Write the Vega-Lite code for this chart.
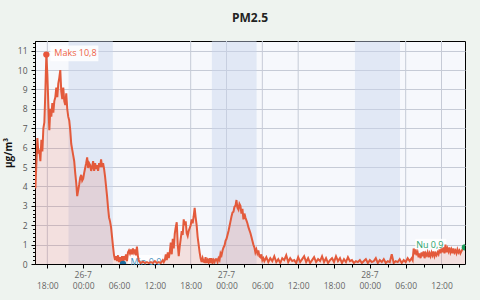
{
  "$schema": "https://vega.github.io/schema/vega-lite/v6.json",
  "width": 430,
  "height": 223,
  "autosize": {"type": "none"},
  "padding": {"left": 35, "top": 41, "right": 15, "bottom": 36},
  "background": "#eef3ef",
  "title": {"text": "PM2.5", "font": "Open Sans", "fontSize": 12, "fontWeight": "bold", "color": "#222", "offset": 16, "anchor": "middle"},
  "config": {
    "view": {"fill": "#f6f8fc", "stroke": "#000", "strokeWidth": 1},
    "axis": {"labelFont": "Open Sans", "titleFont": "Open Sans"}
  },
  "resolve": {"axis": {"x": "independent", "y": "independent"}},
  "datasets": {
    "pm": [
      {"t": "2024-07-25T16:00", "v": 3.9}, {"t": "2024-07-25T16:10", "v": 5.2}, {"t": "2024-07-25T16:20", "v": 6.5}, {"t": "2024-07-25T16:30", "v": 5.7},
      {"t": "2024-07-25T16:40", "v": 5.9}, {"t": "2024-07-25T16:50", "v": 5.3}, {"t": "2024-07-25T17:00", "v": 6.4}, {"t": "2024-07-25T17:10", "v": 5.8},
      {"t": "2024-07-25T17:20", "v": 7.0}, {"t": "2024-07-25T17:30", "v": 7.3}, {"t": "2024-07-25T17:40", "v": 8.9}, {"t": "2024-07-25T17:50", "v": 10.8},
      {"t": "2024-07-25T18:00", "v": 9.8}, {"t": "2024-07-25T18:10", "v": 8.25}, {"t": "2024-07-25T18:20", "v": 6.9}, {"t": "2024-07-25T18:30", "v": 8.0},
      {"t": "2024-07-25T18:40", "v": 7.6}, {"t": "2024-07-25T18:50", "v": 8.3}, {"t": "2024-07-25T19:00", "v": 7.8}, {"t": "2024-07-25T19:10", "v": 8.4},
      {"t": "2024-07-25T19:20", "v": 8.6}, {"t": "2024-07-25T19:30", "v": 9.1}, {"t": "2024-07-25T19:40", "v": 8.6}, {"t": "2024-07-25T19:50", "v": 9.3},
      {"t": "2024-07-25T20:00", "v": 9.6}, {"t": "2024-07-25T20:10", "v": 10.0}, {"t": "2024-07-25T20:20", "v": 8.9}, {"t": "2024-07-25T20:30", "v": 8.5},
      {"t": "2024-07-25T20:40", "v": 9.1}, {"t": "2024-07-25T20:50", "v": 8.4}, {"t": "2024-07-25T21:00", "v": 8.2}, {"t": "2024-07-25T21:10", "v": 8.8},
      {"t": "2024-07-25T21:20", "v": 8.0}, {"t": "2024-07-25T21:30", "v": 7.6}, {"t": "2024-07-25T21:40", "v": 7.4}, {"t": "2024-07-25T21:50", "v": 6.9},
      {"t": "2024-07-25T22:00", "v": 6.2}, {"t": "2024-07-25T22:10", "v": 5.9}, {"t": "2024-07-25T22:20", "v": 5.6}, {"t": "2024-07-25T22:30", "v": 5.3},
      {"t": "2024-07-25T22:40", "v": 4.7}, {"t": "2024-07-25T22:50", "v": 4.2}, {"t": "2024-07-25T23:00", "v": 3.5}, {"t": "2024-07-25T23:10", "v": 3.8},
      {"t": "2024-07-25T23:20", "v": 4.1}, {"t": "2024-07-25T23:30", "v": 4.45}, {"t": "2024-07-25T23:40", "v": 4.6}, {"t": "2024-07-25T23:50", "v": 4.3},
      {"t": "2024-07-26T00:00", "v": 4.4}, {"t": "2024-07-26T00:10", "v": 4.7}, {"t": "2024-07-26T00:20", "v": 4.95}, {"t": "2024-07-26T00:30", "v": 5.2},
      {"t": "2024-07-26T00:40", "v": 5.5}, {"t": "2024-07-26T00:50", "v": 4.95}, {"t": "2024-07-26T01:00", "v": 5.2}, {"t": "2024-07-26T01:10", "v": 5.1},
      {"t": "2024-07-26T01:20", "v": 4.8}, {"t": "2024-07-26T01:30", "v": 5.0}, {"t": "2024-07-26T01:40", "v": 5.3}, {"t": "2024-07-26T01:50", "v": 4.8},
      {"t": "2024-07-26T02:00", "v": 5.2}, {"t": "2024-07-26T02:10", "v": 4.9}, {"t": "2024-07-26T02:20", "v": 5.1}, {"t": "2024-07-26T02:30", "v": 4.8},
      {"t": "2024-07-26T02:40", "v": 5.2}, {"t": "2024-07-26T02:50", "v": 5.0}, {"t": "2024-07-26T03:00", "v": 5.4}, {"t": "2024-07-26T03:10", "v": 5.0},
      {"t": "2024-07-26T03:20", "v": 5.2}, {"t": "2024-07-26T03:30", "v": 4.9}, {"t": "2024-07-26T03:40", "v": 4.5}, {"t": "2024-07-26T03:50", "v": 4.0},
      {"t": "2024-07-26T04:00", "v": 3.5}, {"t": "2024-07-26T04:10", "v": 2.9}, {"t": "2024-07-26T04:20", "v": 2.4}, {"t": "2024-07-26T04:30", "v": 2.2},
      {"t": "2024-07-26T04:40", "v": 1.9}, {"t": "2024-07-26T04:50", "v": 1.4}, {"t": "2024-07-26T05:00", "v": 0.9}, {"t": "2024-07-26T05:10", "v": 0.45},
      {"t": "2024-07-26T05:20", "v": 0.2}, {"t": "2024-07-26T05:30", "v": 0.4}, {"t": "2024-07-26T05:40", "v": 0.15}, {"t": "2024-07-26T05:50", "v": 0.45},
      {"t": "2024-07-26T06:00", "v": 0.1}, {"t": "2024-07-26T06:10", "v": 0.35}, {"t": "2024-07-26T06:20", "v": 0.05}, {"t": "2024-07-26T06:30", "v": 0.4},
      {"t": "2024-07-26T06:40", "v": 0.0}, {"t": "2024-07-26T06:50", "v": 0.4}, {"t": "2024-07-26T07:00", "v": 0.2}, {"t": "2024-07-26T07:10", "v": 0.5},
      {"t": "2024-07-26T07:20", "v": 0.15}, {"t": "2024-07-26T07:30", "v": 0.6}, {"t": "2024-07-26T07:40", "v": 0.7}, {"t": "2024-07-26T07:50", "v": 0.55},
      {"t": "2024-07-26T08:00", "v": 0.75}, {"t": "2024-07-26T08:10", "v": 0.5}, {"t": "2024-07-26T08:20", "v": 0.8}, {"t": "2024-07-26T08:30", "v": 0.6},
      {"t": "2024-07-26T08:40", "v": 0.75}, {"t": "2024-07-26T08:50", "v": 0.45}, {"t": "2024-07-26T09:00", "v": 0.9}, {"t": "2024-07-26T09:10", "v": 0.4},
      {"t": "2024-07-26T09:20", "v": 0.15}, {"t": "2024-07-26T09:40", "v": 0.05}, {"t": "2024-07-26T10:00", "v": 0.12}, {"t": "2024-07-26T10:20", "v": 0.05},
      {"t": "2024-07-26T10:40", "v": 0.1}, {"t": "2024-07-26T11:00", "v": 0.05}, {"t": "2024-07-26T11:20", "v": 0.1}, {"t": "2024-07-26T11:40", "v": 0.05},
      {"t": "2024-07-26T12:00", "v": 0.15}, {"t": "2024-07-26T12:20", "v": 0.05}, {"t": "2024-07-26T12:40", "v": 0.1}, {"t": "2024-07-26T13:00", "v": 0.05},
      {"t": "2024-07-26T13:20", "v": 0.2}, {"t": "2024-07-26T13:30", "v": 0.1}, {"t": "2024-07-26T13:40", "v": 0.2}, {"t": "2024-07-26T13:50", "v": 0.5},
      {"t": "2024-07-26T14:00", "v": 0.2}, {"t": "2024-07-26T14:10", "v": 0.6}, {"t": "2024-07-26T14:20", "v": 0.3}, {"t": "2024-07-26T14:30", "v": 0.6},
      {"t": "2024-07-26T14:40", "v": 1.1}, {"t": "2024-07-26T14:50", "v": 0.5}, {"t": "2024-07-26T15:00", "v": 1.3}, {"t": "2024-07-26T15:10", "v": 0.8},
      {"t": "2024-07-26T15:20", "v": 1.55}, {"t": "2024-07-26T15:30", "v": 1.9}, {"t": "2024-07-26T15:40", "v": 2.15}, {"t": "2024-07-26T15:50", "v": 1.0},
      {"t": "2024-07-26T16:00", "v": 0.4}, {"t": "2024-07-26T16:10", "v": 0.9}, {"t": "2024-07-26T16:20", "v": 1.3}, {"t": "2024-07-26T16:30", "v": 1.7},
      {"t": "2024-07-26T16:40", "v": 1.5}, {"t": "2024-07-26T16:50", "v": 2.3}, {"t": "2024-07-26T17:00", "v": 2.0}, {"t": "2024-07-26T17:10", "v": 2.2},
      {"t": "2024-07-26T17:20", "v": 1.6}, {"t": "2024-07-26T17:30", "v": 1.45}, {"t": "2024-07-26T17:40", "v": 1.7}, {"t": "2024-07-26T17:50", "v": 1.85},
      {"t": "2024-07-26T18:00", "v": 2.0}, {"t": "2024-07-26T18:10", "v": 2.3}, {"t": "2024-07-26T18:20", "v": 2.1}, {"t": "2024-07-26T18:30", "v": 2.45},
      {"t": "2024-07-26T18:40", "v": 2.9}, {"t": "2024-07-26T18:50", "v": 2.4}, {"t": "2024-07-26T19:00", "v": 2.0}, {"t": "2024-07-26T19:10", "v": 1.4},
      {"t": "2024-07-26T19:20", "v": 1.0}, {"t": "2024-07-26T19:30", "v": 0.6}, {"t": "2024-07-26T19:40", "v": 0.3}, {"t": "2024-07-26T19:50", "v": 0.1},
      {"t": "2024-07-26T20:00", "v": 0.3}, {"t": "2024-07-26T20:10", "v": 0.12}, {"t": "2024-07-26T20:20", "v": 0.1}, {"t": "2024-07-26T20:30", "v": 0.35},
      {"t": "2024-07-26T20:40", "v": 0.05}, {"t": "2024-07-26T20:50", "v": 0.2}, {"t": "2024-07-26T21:00", "v": 0.08}, {"t": "2024-07-26T21:10", "v": 0.3},
      {"t": "2024-07-26T21:20", "v": 0.05}, {"t": "2024-07-26T21:30", "v": 0.3}, {"t": "2024-07-26T21:40", "v": 0.05}, {"t": "2024-07-26T21:50", "v": 0.2},
      {"t": "2024-07-26T22:00", "v": 0.1}, {"t": "2024-07-26T22:10", "v": 0.25}, {"t": "2024-07-26T22:20", "v": 0.25}, {"t": "2024-07-26T22:30", "v": 0.1},
      {"t": "2024-07-26T22:40", "v": 0.3}, {"t": "2024-07-26T22:50", "v": 0.2}, {"t": "2024-07-26T23:00", "v": 0.55}, {"t": "2024-07-26T23:10", "v": 0.45},
      {"t": "2024-07-26T23:20", "v": 0.7}, {"t": "2024-07-26T23:30", "v": 0.85}, {"t": "2024-07-26T23:40", "v": 0.95}, {"t": "2024-07-26T23:50", "v": 1.2},
      {"t": "2024-07-27T00:00", "v": 1.3}, {"t": "2024-07-27T00:10", "v": 1.5}, {"t": "2024-07-27T00:20", "v": 1.7}, {"t": "2024-07-27T00:30", "v": 1.95},
      {"t": "2024-07-27T00:40", "v": 2.2}, {"t": "2024-07-27T00:50", "v": 2.45}, {"t": "2024-07-27T01:00", "v": 2.65}, {"t": "2024-07-27T01:10", "v": 2.7},
      {"t": "2024-07-27T01:20", "v": 2.95}, {"t": "2024-07-27T01:30", "v": 3.0}, {"t": "2024-07-27T01:40", "v": 3.3}, {"t": "2024-07-27T01:50", "v": 2.9},
      {"t": "2024-07-27T02:00", "v": 2.8}, {"t": "2024-07-27T02:10", "v": 3.1}, {"t": "2024-07-27T02:20", "v": 3.0}, {"t": "2024-07-27T02:30", "v": 2.6},
      {"t": "2024-07-27T02:40", "v": 2.85}, {"t": "2024-07-27T02:50", "v": 2.3}, {"t": "2024-07-27T03:00", "v": 2.6}, {"t": "2024-07-27T03:10", "v": 2.4},
      {"t": "2024-07-27T03:20", "v": 2.25}, {"t": "2024-07-27T03:30", "v": 2.1}, {"t": "2024-07-27T03:40", "v": 1.9}, {"t": "2024-07-27T03:50", "v": 1.75},
      {"t": "2024-07-27T04:00", "v": 1.6}, {"t": "2024-07-27T04:10", "v": 1.4}, {"t": "2024-07-27T04:20", "v": 1.2}, {"t": "2024-07-27T04:30", "v": 1.0},
      {"t": "2024-07-27T04:40", "v": 0.86}, {"t": "2024-07-27T04:50", "v": 0.6}, {"t": "2024-07-27T05:00", "v": 0.75}, {"t": "2024-07-27T05:10", "v": 0.55},
      {"t": "2024-07-27T05:20", "v": 0.7}, {"t": "2024-07-27T05:30", "v": 0.4}, {"t": "2024-07-27T05:40", "v": 0.35}, {"t": "2024-07-27T05:50", "v": 0.5},
      {"t": "2024-07-27T06:00", "v": 0.2}, {"t": "2024-07-27T06:10", "v": 0.3}, {"t": "2024-07-27T06:20", "v": 0.15}, {"t": "2024-07-27T06:40", "v": 0.35},
      {"t": "2024-07-27T07:00", "v": 0.1}, {"t": "2024-07-27T07:20", "v": 0.3}, {"t": "2024-07-27T07:40", "v": 0.15}, {"t": "2024-07-27T08:00", "v": 0.4},
      {"t": "2024-07-27T08:20", "v": 0.1}, {"t": "2024-07-27T08:40", "v": 0.25}, {"t": "2024-07-27T09:00", "v": 0.05}, {"t": "2024-07-27T09:20", "v": 0.3},
      {"t": "2024-07-27T09:40", "v": 0.2}, {"t": "2024-07-27T10:00", "v": 0.45}, {"t": "2024-07-27T10:20", "v": 0.1}, {"t": "2024-07-27T10:40", "v": 0.3},
      {"t": "2024-07-27T11:00", "v": 0.15}, {"t": "2024-07-27T11:20", "v": 0.2}, {"t": "2024-07-27T11:40", "v": 0.05}, {"t": "2024-07-27T12:00", "v": 0.35},
      {"t": "2024-07-27T12:20", "v": 0.1}, {"t": "2024-07-27T12:40", "v": 0.25}, {"t": "2024-07-27T13:00", "v": 0.4}, {"t": "2024-07-27T13:20", "v": 0.1},
      {"t": "2024-07-27T13:40", "v": 0.3}, {"t": "2024-07-27T14:00", "v": 0.05}, {"t": "2024-07-27T14:20", "v": 0.2}, {"t": "2024-07-27T14:40", "v": 0.35},
      {"t": "2024-07-27T15:00", "v": 0.1}, {"t": "2024-07-27T15:20", "v": 0.25}, {"t": "2024-07-27T15:40", "v": 0.15}, {"t": "2024-07-27T16:00", "v": 0.4},
      {"t": "2024-07-27T16:20", "v": 0.1}, {"t": "2024-07-27T16:40", "v": 0.3}, {"t": "2024-07-27T17:00", "v": 0.05}, {"t": "2024-07-27T17:20", "v": 0.2},
      {"t": "2024-07-27T17:40", "v": 0.3}, {"t": "2024-07-27T18:00", "v": 0.1}, {"t": "2024-07-27T18:20", "v": 0.4}, {"t": "2024-07-27T18:40", "v": 0.15},
      {"t": "2024-07-27T19:00", "v": 0.3}, {"t": "2024-07-27T19:20", "v": 0.05}, {"t": "2024-07-27T19:40", "v": 0.25}, {"t": "2024-07-27T20:00", "v": 0.1},
      {"t": "2024-07-27T20:20", "v": 0.35}, {"t": "2024-07-27T20:40", "v": 0.15}, {"t": "2024-07-27T21:00", "v": 0.2}, {"t": "2024-07-27T21:20", "v": 0.05},
      {"t": "2024-07-27T21:40", "v": 0.15}, {"t": "2024-07-27T22:00", "v": 0.1}, {"t": "2024-07-27T22:20", "v": 0.2}, {"t": "2024-07-27T22:40", "v": 0.05},
      {"t": "2024-07-27T23:00", "v": 0.15}, {"t": "2024-07-27T23:20", "v": 0.25}, {"t": "2024-07-27T23:40", "v": 0.05}, {"t": "2024-07-28T00:00", "v": 0.2},
      {"t": "2024-07-28T00:20", "v": 0.1}, {"t": "2024-07-28T00:40", "v": 0.15}, {"t": "2024-07-28T01:00", "v": 0.3}, {"t": "2024-07-28T01:20", "v": 0.05},
      {"t": "2024-07-28T01:40", "v": 0.2}, {"t": "2024-07-28T02:00", "v": 0.1}, {"t": "2024-07-28T02:20", "v": 0.25}, {"t": "2024-07-28T02:40", "v": 0.05},
      {"t": "2024-07-28T03:00", "v": 0.15}, {"t": "2024-07-28T03:20", "v": 0.1}, {"t": "2024-07-28T03:40", "v": 0.5}, {"t": "2024-07-28T04:00", "v": 0.05},
      {"t": "2024-07-28T04:20", "v": 0.15}, {"t": "2024-07-28T04:40", "v": 0.1}, {"t": "2024-07-28T05:00", "v": 0.25}, {"t": "2024-07-28T05:20", "v": 0.05},
      {"t": "2024-07-28T05:40", "v": 0.2}, {"t": "2024-07-28T06:00", "v": 0.1}, {"t": "2024-07-28T06:20", "v": 0.3}, {"t": "2024-07-28T06:40", "v": 0.15},
      {"t": "2024-07-28T07:00", "v": 0.3}, {"t": "2024-07-28T07:10", "v": 0.2}, {"t": "2024-07-28T07:20", "v": 0.8}, {"t": "2024-07-28T07:30", "v": 0.5},
      {"t": "2024-07-28T07:40", "v": 0.75}, {"t": "2024-07-28T07:50", "v": 0.45}, {"t": "2024-07-28T08:00", "v": 0.6}, {"t": "2024-07-28T08:10", "v": 0.35},
      {"t": "2024-07-28T08:20", "v": 0.55}, {"t": "2024-07-28T08:30", "v": 0.3}, {"t": "2024-07-28T08:40", "v": 0.6}, {"t": "2024-07-28T08:50", "v": 0.4},
      {"t": "2024-07-28T09:00", "v": 0.65}, {"t": "2024-07-28T09:10", "v": 0.3}, {"t": "2024-07-28T09:20", "v": 0.55}, {"t": "2024-07-28T09:30", "v": 0.45},
      {"t": "2024-07-28T09:40", "v": 0.6}, {"t": "2024-07-28T09:50", "v": 0.35}, {"t": "2024-07-28T10:00", "v": 0.55}, {"t": "2024-07-28T10:10", "v": 0.4},
      {"t": "2024-07-28T10:20", "v": 0.6}, {"t": "2024-07-28T10:30", "v": 0.45}, {"t": "2024-07-28T10:40", "v": 0.65}, {"t": "2024-07-28T10:50", "v": 0.4},
      {"t": "2024-07-28T11:00", "v": 0.55}, {"t": "2024-07-28T11:10", "v": 0.45}, {"t": "2024-07-28T11:20", "v": 0.6}, {"t": "2024-07-28T11:30", "v": 0.5},
      {"t": "2024-07-28T11:40", "v": 0.75}, {"t": "2024-07-28T11:50", "v": 0.55}, {"t": "2024-07-28T12:00", "v": 0.8}, {"t": "2024-07-28T12:10", "v": 0.6},
      {"t": "2024-07-28T12:20", "v": 0.85}, {"t": "2024-07-28T12:30", "v": 0.55}, {"t": "2024-07-28T12:40", "v": 1.0}, {"t": "2024-07-28T12:50", "v": 0.6},
      {"t": "2024-07-28T13:00", "v": 0.8}, {"t": "2024-07-28T13:10", "v": 0.65}, {"t": "2024-07-28T13:20", "v": 0.85}, {"t": "2024-07-28T13:30", "v": 0.6},
      {"t": "2024-07-28T13:40", "v": 0.75}, {"t": "2024-07-28T13:50", "v": 0.55}, {"t": "2024-07-28T14:00", "v": 0.8}, {"t": "2024-07-28T14:10", "v": 0.6},
      {"t": "2024-07-28T14:20", "v": 0.7}, {"t": "2024-07-28T14:30", "v": 0.55}, {"t": "2024-07-28T14:40", "v": 0.75}, {"t": "2024-07-28T14:50", "v": 0.6},
      {"t": "2024-07-28T15:00", "v": 0.7}, {"t": "2024-07-28T15:10", "v": 0.55}, {"t": "2024-07-28T15:20", "v": 0.65}, {"t": "2024-07-28T15:30", "v": 0.75},
      {"t": "2024-07-28T15:40", "v": 0.8}, {"t": "2024-07-28T15:55", "v": 0.86}
    ],
    "bands": [
      {"s": "2024-07-25T21:33", "e": "2024-07-26T04:58"},
      {"s": "2024-07-26T21:33", "e": "2024-07-27T05:02"},
      {"s": "2024-07-27T21:30", "e": "2024-07-28T05:03"}
    ],
    "grid": [
      {"g": "2024-07-25T18:00"}, {"g": "2024-07-26T18:00"}, {"g": "2024-07-27T00:00"}, {"g": "2024-07-27T06:00"},
      {"g": "2024-07-27T12:00"}, {"g": "2024-07-28T06:00"}, {"g": "2024-07-28T12:00"}
    ],
    "dates": [
      {"d": "2024-07-26T00:00", "lab": "26-7"}, {"d": "2024-07-27T00:00", "lab": "27-7"}, {"d": "2024-07-28T00:00", "lab": "28-7"}
    ],
    "ann": [
      {"t": "2024-07-25T17:50", "v": 10.8, "k": "max", "label": "Maks 10,8"},
      {"t": "2024-07-26T06:40", "v": 0.0, "k": "min", "label": "Min 0,0"},
      {"t": "2024-07-28T15:55", "v": 0.86, "k": "now", "label": "Nu 0,9"}
    ]
  },
  "layer": [
    {
      "data": {"name": "grid"},
      "mark": {"type": "rule", "color": "#c6cbd6", "strokeWidth": 1},
      "encoding": {
        "x": {"field": "g", "type": "temporal",
          "scale": {"domain": [{"year": 2024, "month": 7, "date": 25, "hours": 15, "minutes": 56}, {"year": 2024, "month": 7, "date": 28, "hours": 15, "minutes": 56}], "nice": false},
          "axis": {"orient": "bottom", "title": null, "grid": false, "tickSize": 4, "tickColor": "#000", "domainColor": "#000", "format": "%H:%M", "tickCount": 12,
            "labelFontSize": 8.5, "labelColor": "#666", "labelPadding": 13, "labelFlush": false, "labelOverlap": false}}
      }
    },
    {
      "data": {"name": "bands"},
      "mark": {"type": "rect", "color": "#c8d5ee", "opacity": 0.45},
      "encoding": {
        "x": {"field": "s", "type": "temporal", "axis": null},
        "x2": {"field": "e"}
      }
    },
    {
      "data": {"name": "pm"},
      "mark": {"type": "area", "color": "#e35a3b", "opacity": 0.15, "clip": true},
      "encoding": {
        "x": {"field": "t", "type": "temporal",
          "axis": {"orient": "bottom", "title": null, "labels": false, "domain": false, "grid": false, "tickSize": 3, "tickColor": "#000", "tickCount": 24}},
        "y": {"field": "v", "type": "quantitative",
          "scale": {"domain": [0, 11.5], "nice": false},
          "axis": {"orient": "left", "tickCount": 12, "grid": true, "gridColor": "#c6cbd6", "tickSize": 4, "tickColor": "#000", "domainColor": "#000",
            "labelFontSize": 8.5, "labelColor": "#555", "labelPadding": 4,
            "title": "µg/m³", "titleFontSize": 10, "titleFontWeight": "bold", "titleColor": "#111"}}
      }
    },
    {
      "data": {"name": "dates"},
      "mark": {"type": "text", "font": "Open Sans", "fontSize": 8.5, "color": "#666", "dy": 11},
      "encoding": {"x": {"field": "d", "type": "temporal", "axis": null}, "y": {"datum": 0, "type": "quantitative", "axis": null}, "text": {"field": "lab"}}
    },
    {
      "data": {"name": "ann"},
      "transform": [{"filter": "datum.k == 'max'"}],
      "mark": {"type": "point", "filled": true, "color": "#ffffff", "opacity": 0.85, "size": 400, "shape": "M0.4,-0.9H5.2V0.67H0.4Z"},
      "encoding": {"x": {"field": "t", "type": "temporal", "axis": null}, "y": {"field": "v", "type": "quantitative", "axis": null}}
    },
    {
      "data": {"name": "ann"},
      "transform": [{"filter": "datum.k == 'min'"}],
      "mark": {"type": "point", "filled": true, "color": "#ffffff", "opacity": 0.85, "size": 400, "shape": "M0.45,-0.9H3.9V0.6H0.45Z", "clip": true},
      "encoding": {"x": {"field": "t", "type": "temporal", "axis": null}, "y": {"field": "v", "type": "quantitative", "axis": null}}
    },
    {
      "data": {"name": "ann"},
      "transform": [{"filter": "datum.k == 'now'"}],
      "mark": {"type": "point", "filled": true, "color": "#ffffff", "opacity": 0.85, "size": 400, "shape": "M-4.95,-0.85H-1.85V0.35H-4.95Z"},
      "encoding": {"x": {"field": "t", "type": "temporal", "axis": null}, "y": {"field": "v", "type": "quantitative", "axis": null}}
    },
    {
      "data": {"name": "ann"},
      "transform": [{"filter": "datum.k == 'max'"}],
      "mark": {"type": "text", "font": "Open Sans", "fontSize": 9, "color": "#ef6245", "align": "left", "dx": 8, "dy": -1.5},
      "encoding": {"x": {"field": "t", "type": "temporal", "axis": null}, "y": {"field": "v", "type": "quantitative", "axis": null}, "text": {"field": "label"}}
    },
    {
      "data": {"name": "ann"},
      "transform": [{"filter": "datum.k == 'min'"}],
      "mark": {"type": "text", "font": "Open Sans", "fontSize": 9, "color": "#3f8fc0", "align": "left", "dx": 7.5, "dy": -2},
      "encoding": {"x": {"field": "t", "type": "temporal", "axis": null}, "y": {"field": "v", "type": "quantitative", "axis": null}, "text": {"field": "label"}}
    },
    {
      "data": {"name": "ann"},
      "transform": [{"filter": "datum.k == 'now'"}],
      "mark": {"type": "text", "font": "Open Sans", "fontSize": 9, "color": "#2aa36a", "align": "right", "dx": -21.5, "dy": -2},
      "encoding": {"x": {"field": "t", "type": "temporal", "axis": null}, "y": {"field": "v", "type": "quantitative", "axis": null}, "text": {"field": "label"}}
    },
    {
      "data": {"name": "pm"},
      "mark": {"type": "line", "color": "#e35a3b", "strokeWidth": 2, "clip": true},
      "encoding": {
        "x": {"field": "t", "type": "temporal", "axis": null},
        "y": {"field": "v", "type": "quantitative",
          "axis": {"orient": "left", "title": null, "labels": false, "domain": false, "grid": false, "tickSize": 2.5, "tickColor": "#000", "tickCount": 57}}
      }
    },
    {
      "data": {"name": "ann"},
      "mark": {"type": "point", "filled": true, "opacity": 1, "size": 40, "clip": true},
      "encoding": {
        "x": {"field": "t", "type": "temporal", "axis": null},
        "y": {"field": "v", "type": "quantitative", "axis": null},
        "color": {"field": "k", "type": "nominal", "scale": {"domain": ["max", "min", "now"], "range": ["#e8553b", "#1f6f9f", "#1c9d5a"]}, "legend": null}
      }
    }
  ]
}
